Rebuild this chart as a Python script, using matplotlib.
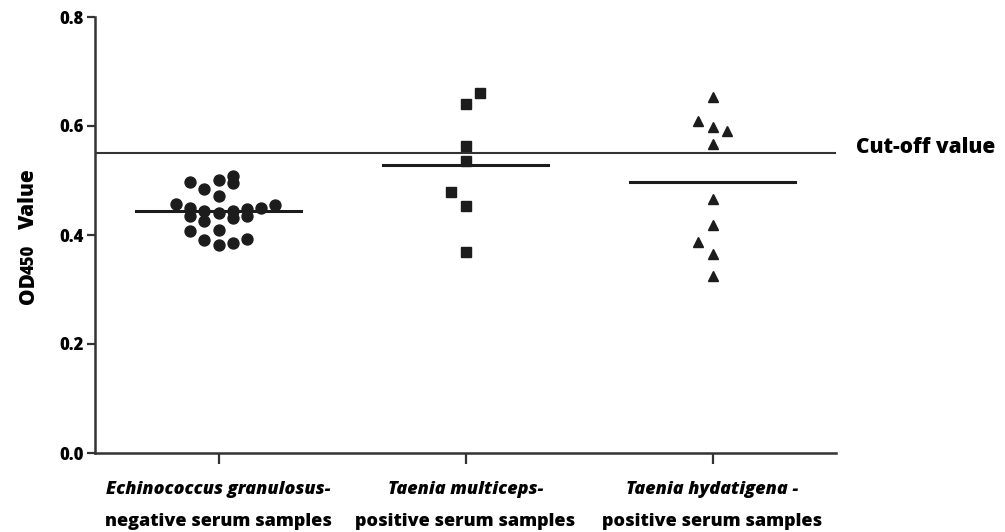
import numpy as np
import matplotlib.pyplot as plt

# OD450 values, one list per group
eg_neg = [0.497, 0.485, 0.501, 0.508, 0.495, 0.472, 0.456, 0.450, 0.434, 0.444,
          0.426, 0.441, 0.444, 0.431, 0.447, 0.434, 0.450, 0.455, 0.407, 0.391,
          0.410, 0.382, 0.385, 0.393]
eg_off = [-0.114, -0.057, 0.0, 0.06, 0.06, 0.0, -0.171, -0.114, -0.114, -0.057,
          -0.057, 0.0, 0.06, 0.06, 0.114, 0.114, 0.171, 0.228, -0.114, -0.057,
          0.0, 0.0, 0.06, 0.114]
tm_pos = [0.661, 0.641, 0.564, 0.536, 0.479, 0.454, 0.368]
tm_off = [0.057, 0.0, 0.0, 0.0, -0.058, 0.0, 0.0]
th_pos = [0.654, 0.610, 0.599, 0.590, 0.567, 0.466, 0.418, 0.387, 0.366, 0.324]
th_off = [0.0, -0.057, 0.0, 0.058, 0.0, 0.0, 0.0, -0.057, 0.0, 0.0]

cutoff = 0.55
line1 = ['Echinococcus granulosus-', 'Taenia multiceps-', 'Taenia hydatigena -']
line2 = ['negative serum samples', 'positive serum samples', 'positive serum samples']

FONT = 'Open Sans'
W = 800
ink = '#1c1c1c'

fig = plt.figure(figsize=(10.05, 5.32), dpi=100)
ax = fig.add_axes([95 / 1005, 79 / 532, 741 / 1005, 436 / 532])

groups = [(eg_neg, eg_off, 'o', 7.9), (tm_pos, tm_off, 's', 7.0), (th_pos, th_off, '^', 7.6)]
for i, (vals, off, mk, ms) in enumerate(groups):
    x = i + 1 + np.array(off)
    ax.plot(x, vals, mk, color=ink, ms=ms, mec=ink, zorder=3)
    m = np.mean(vals)
    ax.plot([i + 1 - 1 / 3, i + 1 + 1 / 3], [m, m], color=ink, lw=2.2, zorder=2)

ax.axhline(cutoff, color='#333333', lw=1.5, zorder=1)
ax.text(3.58, cutoff + 0.01, 'Cut-off value', fontsize=15, fontweight=W,
        family=FONT, va='center', ha='left', color='black')

ax.set_xlim(0.5, 3.5)
ax.set_ylim(0, 0.8)
ax.set_yticks([0.0, 0.2, 0.4, 0.6, 0.8])
ax.set_yticklabels(['0.0', '0.2', '0.4', '0.6', '0.8'], fontsize=12,
                   fontweight=W, family=FONT)
ax.set_xticks([1, 2, 3])
ax.set_xticklabels([])
ax.tick_params(axis='y', length=6, width=1.6, pad=2, color='#333333')
ax.tick_params(axis='x', length=8, width=1.6, color='#333333')
for s in ['top', 'right']:
    ax.spines[s].set_visible(False)
for s in ['left', 'bottom']:
    ax.spines[s].set_linewidth(1.8)
    ax.spines[s].set_color('#333333')

tr = ax.get_xaxis_transform()
for i in range(3):
    ax.text(i + 1, -0.083, line1[i], transform=tr, ha='center', va='center',
            fontsize=13, fontweight=W, style='italic', family=FONT)
    ax.text(i + 1, -0.156, line2[i], transform=tr, ha='center', va='center',
            fontsize=13, fontweight=W, family=FONT)

# y label: OD with a smaller 450, same baseline
kw = dict(rotation=90, rotation_mode='anchor', ha='left', va='baseline',
          fontweight=W, family=FONT, transform=fig.transFigure)
fig.text(34 / 1005, (532 - 304) / 532, 'OD', fontsize=15, **kw)
fig.text(34 / 1005, (532 - 274) / 532, '450', fontsize=12, **kw)
fig.text(34 / 1005, (532 - 229) / 532, 'Value', fontsize=15, **kw)

fig.savefig('out.png', dpi=100)
